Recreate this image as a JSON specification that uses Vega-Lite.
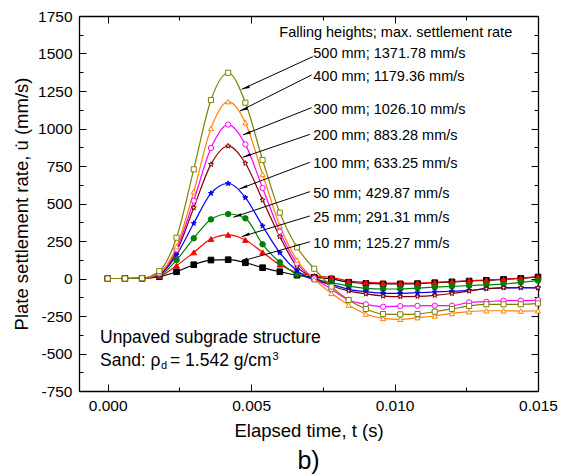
{
  "$schema": "https://vega.github.io/schema/vega-lite/v6.json",
  "width": 459,
  "height": 375,
  "autosize": "none",
  "padding": {"left": 79, "top": 16, "right": 27, "bottom": 84},
  "background": "white",
  "config": {
    "font": "Liberation Sans",
    "view": {"stroke": null},
    "axis": {
      "grid": false,
      "domainColor": "black",
      "domainWidth": 1.3,
      "tickColor": "black",
      "tickWidth": 1,
      "labelColor": "black",
      "labelFont": "Liberation Sans",
      "labelFontSize": 15.5,
      "titleFont": "Liberation Sans",
      "titleFontSize": 18.5,
      "titleFontWeight": "normal",
      "titleColor": "black"
    }
  },
  "title": {"text": "b)", "orient": "bottom", "anchor": "middle", "fontSize": 25, "fontWeight": "normal", "color": "black", "font": "Liberation Sans", "offset": 9},
  "datasets": {
    "series": [
      {"h":"10 mm","t":0,"v":0},{"h":"10 mm","t":0.0006,"v":0},{"h":"10 mm","t":0.0012,"v":1},{"h":"10 mm","t":0.0018,"v":12},{"h":"10 mm","t":0.0024,"v":45},{"h":"10 mm","t":0.003,"v":92},{"h":"10 mm","t":0.0036,"v":123},{"h":"10 mm","t":0.0042,"v":125.27},{"h":"10 mm","t":0.0048,"v":105},{"h":"10 mm","t":0.0054,"v":72},{"h":"10 mm","t":0.006,"v":45},{"h":"10 mm","t":0.0066,"v":22},{"h":"10 mm","t":0.0072,"v":8},{"h":"10 mm","t":0.0078,"v":-3},{"h":"10 mm","t":0.0084,"v":-25},{"h":"10 mm","t":0.009,"v":-33},{"h":"10 mm","t":0.0096,"v":-36},{"h":"10 mm","t":0.0102,"v":-36},{"h":"10 mm","t":0.0108,"v":-34},{"h":"10 mm","t":0.0114,"v":-28},{"h":"10 mm","t":0.012,"v":-22},{"h":"10 mm","t":0.0126,"v":-17},{"h":"10 mm","t":0.0132,"v":-12},{"h":"10 mm","t":0.0138,"v":-6},{"h":"10 mm","t":0.0144,"v":1},{"h":"10 mm","t":0.015,"v":10},
      {"h":"25 mm","t":0,"v":0},{"h":"25 mm","t":0.0006,"v":0},{"h":"25 mm","t":0.0012,"v":1},{"h":"25 mm","t":0.0018,"v":15},{"h":"25 mm","t":0.0024,"v":86},{"h":"25 mm","t":0.003,"v":174},{"h":"25 mm","t":0.0036,"v":263},{"h":"25 mm","t":0.0042,"v":291.31},{"h":"25 mm","t":0.0048,"v":257},{"h":"25 mm","t":0.0054,"v":175},{"h":"25 mm","t":0.006,"v":92},{"h":"25 mm","t":0.0066,"v":40},{"h":"25 mm","t":0.0072,"v":18},{"h":"25 mm","t":0.0078,"v":8},{"h":"25 mm","t":0.0084,"v":-18},{"h":"25 mm","t":0.009,"v":-26},{"h":"25 mm","t":0.0096,"v":-30},{"h":"25 mm","t":0.0102,"v":-31},{"h":"25 mm","t":0.0108,"v":-30},{"h":"25 mm","t":0.0114,"v":-26},{"h":"25 mm","t":0.012,"v":-20},{"h":"25 mm","t":0.0126,"v":-15},{"h":"25 mm","t":0.0132,"v":-10},{"h":"25 mm","t":0.0138,"v":-4},{"h":"25 mm","t":0.0144,"v":3},{"h":"25 mm","t":0.015,"v":12},
      {"h":"50 mm","t":0,"v":0},{"h":"50 mm","t":0.0006,"v":0},{"h":"50 mm","t":0.0012,"v":1},{"h":"50 mm","t":0.0018,"v":20},{"h":"50 mm","t":0.0024,"v":123},{"h":"50 mm","t":0.003,"v":268},{"h":"50 mm","t":0.0036,"v":394},{"h":"50 mm","t":0.0042,"v":429.87},{"h":"50 mm","t":0.0048,"v":401},{"h":"50 mm","t":0.0054,"v":228},{"h":"50 mm","t":0.006,"v":108},{"h":"50 mm","t":0.0066,"v":28},{"h":"50 mm","t":0.0072,"v":-3},{"h":"50 mm","t":0.0078,"v":-28},{"h":"50 mm","t":0.0084,"v":-50},{"h":"50 mm","t":0.009,"v":-66},{"h":"50 mm","t":0.0096,"v":-70},{"h":"50 mm","t":0.0102,"v":-70},{"h":"50 mm","t":0.0108,"v":-64},{"h":"50 mm","t":0.0114,"v":-58},{"h":"50 mm","t":0.012,"v":-52},{"h":"50 mm","t":0.0126,"v":-48},{"h":"50 mm","t":0.0132,"v":-42},{"h":"50 mm","t":0.0138,"v":-37},{"h":"50 mm","t":0.0144,"v":-26},{"h":"50 mm","t":0.015,"v":-14},
      {"h":"100 mm","t":0,"v":0},{"h":"100 mm","t":0.0006,"v":0},{"h":"100 mm","t":0.0012,"v":1},{"h":"100 mm","t":0.0018,"v":25},{"h":"100 mm","t":0.0024,"v":157},{"h":"100 mm","t":0.003,"v":368},{"h":"100 mm","t":0.0036,"v":568},{"h":"100 mm","t":0.0042,"v":633.25},{"h":"100 mm","t":0.0048,"v":539},{"h":"100 mm","t":0.0054,"v":350},{"h":"100 mm","t":0.006,"v":172},{"h":"100 mm","t":0.0066,"v":52},{"h":"100 mm","t":0.0072,"v":-10},{"h":"100 mm","t":0.0078,"v":-39},{"h":"100 mm","t":0.0084,"v":-72},{"h":"100 mm","t":0.009,"v":-88},{"h":"100 mm","t":0.0096,"v":-99},{"h":"100 mm","t":0.0102,"v":-99},{"h":"100 mm","t":0.0108,"v":-95},{"h":"100 mm","t":0.0114,"v":-90},{"h":"100 mm","t":0.012,"v":-85},{"h":"100 mm","t":0.0126,"v":-79},{"h":"100 mm","t":0.0132,"v":-68},{"h":"100 mm","t":0.0138,"v":-62},{"h":"100 mm","t":0.0144,"v":-62},{"h":"100 mm","t":0.015,"v":-62},
      {"h":"200 mm","t":0,"v":0},{"h":"200 mm","t":0.0006,"v":0},{"h":"200 mm","t":0.0012,"v":1},{"h":"200 mm","t":0.0018,"v":30},{"h":"200 mm","t":0.0024,"v":179},{"h":"200 mm","t":0.003,"v":472},{"h":"200 mm","t":0.0036,"v":761},{"h":"200 mm","t":0.0042,"v":883.28},{"h":"200 mm","t":0.0048,"v":768},{"h":"200 mm","t":0.0054,"v":523},{"h":"200 mm","t":0.006,"v":279},{"h":"200 mm","t":0.0066,"v":79},{"h":"200 mm","t":0.0072,"v":5},{"h":"200 mm","t":0.0078,"v":-48},{"h":"200 mm","t":0.0084,"v":-83},{"h":"200 mm","t":0.009,"v":-103},{"h":"200 mm","t":0.0096,"v":-117},{"h":"200 mm","t":0.0102,"v":-121},{"h":"200 mm","t":0.0108,"v":-119},{"h":"200 mm","t":0.0114,"v":-112},{"h":"200 mm","t":0.012,"v":-100},{"h":"200 mm","t":0.0126,"v":-84},{"h":"200 mm","t":0.0132,"v":-68},{"h":"200 mm","t":0.0138,"v":-62},{"h":"200 mm","t":0.0144,"v":-60},{"h":"200 mm","t":0.015,"v":-62},
      {"h":"300 mm","t":0,"v":0},{"h":"300 mm","t":0.0006,"v":0},{"h":"300 mm","t":0.0012,"v":1},{"h":"300 mm","t":0.0018,"v":33},{"h":"300 mm","t":0.0024,"v":194},{"h":"300 mm","t":0.003,"v":519},{"h":"300 mm","t":0.0036,"v":870},{"h":"300 mm","t":0.0042,"v":1026.1},{"h":"300 mm","t":0.0048,"v":894},{"h":"300 mm","t":0.0054,"v":603},{"h":"300 mm","t":0.006,"v":312},{"h":"300 mm","t":0.0066,"v":101},{"h":"300 mm","t":0.0072,"v":1},{"h":"300 mm","t":0.0078,"v":-72},{"h":"300 mm","t":0.0084,"v":-143},{"h":"300 mm","t":0.009,"v":-172},{"h":"300 mm","t":0.0096,"v":-188},{"h":"300 mm","t":0.0102,"v":-184},{"h":"300 mm","t":0.0108,"v":-182},{"h":"300 mm","t":0.0114,"v":-181},{"h":"300 mm","t":0.012,"v":-181},{"h":"300 mm","t":0.0126,"v":-159},{"h":"300 mm","t":0.0132,"v":-155},{"h":"300 mm","t":0.0138,"v":-148},{"h":"300 mm","t":0.0144,"v":-148},{"h":"300 mm","t":0.015,"v":-144},
      {"h":"400 mm","t":0,"v":0},{"h":"400 mm","t":0.0006,"v":0},{"h":"400 mm","t":0.0012,"v":1},{"h":"400 mm","t":0.0018,"v":38},{"h":"400 mm","t":0.0024,"v":212},{"h":"400 mm","t":0.003,"v":579},{"h":"400 mm","t":0.0036,"v":1001},{"h":"400 mm","t":0.0042,"v":1179.36},{"h":"400 mm","t":0.0048,"v":1039},{"h":"400 mm","t":0.0054,"v":694},{"h":"400 mm","t":0.006,"v":352},{"h":"400 mm","t":0.0066,"v":123},{"h":"400 mm","t":0.0072,"v":-6},{"h":"400 mm","t":0.0078,"v":-99},{"h":"400 mm","t":0.0084,"v":-177},{"h":"400 mm","t":0.009,"v":-237},{"h":"400 mm","t":0.0096,"v":-266},{"h":"400 mm","t":0.0102,"v":-272},{"h":"400 mm","t":0.0108,"v":-261},{"h":"400 mm","t":0.0114,"v":-250},{"h":"400 mm","t":0.012,"v":-233},{"h":"400 mm","t":0.0126,"v":-221},{"h":"400 mm","t":0.0132,"v":-215},{"h":"400 mm","t":0.0138,"v":-215},{"h":"400 mm","t":0.0144,"v":-217},{"h":"400 mm","t":0.015,"v":-215},
      {"h":"500 mm","t":0,"v":0},{"h":"500 mm","t":0.0006,"v":0},{"h":"500 mm","t":0.0012,"v":2},{"h":"500 mm","t":0.0018,"v":50},{"h":"500 mm","t":0.0024,"v":272},{"h":"500 mm","t":0.003,"v":728},{"h":"500 mm","t":0.0036,"v":1190},{"h":"500 mm","t":0.0042,"v":1371.78},{"h":"500 mm","t":0.0048,"v":1172},{"h":"500 mm","t":0.0054,"v":790},{"h":"500 mm","t":0.006,"v":439},{"h":"500 mm","t":0.0066,"v":208},{"h":"500 mm","t":0.0072,"v":65},{"h":"500 mm","t":0.0078,"v":-54},{"h":"500 mm","t":0.0084,"v":-143},{"h":"500 mm","t":0.009,"v":-203},{"h":"500 mm","t":0.0096,"v":-237},{"h":"500 mm","t":0.0102,"v":-239},{"h":"500 mm","t":0.0108,"v":-237},{"h":"500 mm","t":0.0114,"v":-221},{"h":"500 mm","t":0.012,"v":-203},{"h":"500 mm","t":0.0126,"v":-183},{"h":"500 mm","t":0.0132,"v":-172},{"h":"500 mm","t":0.0138,"v":-172},{"h":"500 mm","t":0.0144,"v":-172},{"h":"500 mm","t":0.015,"v":-166}
    ],
    "arrows": [
      {"h":"500 mm","t":0.00715,"v":1479,"t2":0.00467,"v2":1261},
      {"h":"400 mm","t":0.00711,"v":1357,"t2":0.00461,"v2":1117},
      {"h":"300 mm","t":0.00711,"v":1139,"t2":0.00471,"v2":957},
      {"h":"200 mm","t":0.00705,"v":961,"t2":0.00471,"v2":808},
      {"h":"100 mm","t":0.00705,"v":775,"t2":0.00459,"v2":597},
      {"h":"50 mm","t":0.00705,"v":579,"t2":0.00438,"v2":408},
      {"h":"25 mm","t":0.00705,"v":417,"t2":0.00467,"v2":279},
      {"h":"10 mm","t":0.00705,"v":245,"t2":0.00461,"v2":112}
    ],
    "labels": [
      {"t":0.005982,"v":1611,"label":"Falling heights; max. settlement rate"},
      {"t":0.007167,"v":1468,"label":"500 mm; 1371.78 mm/s"},
      {"t":0.007167,"v":1319,"label":"400 mm; 1179.36 mm/s"},
      {"t":0.007167,"v":1097,"label":"300 mm; 1026.10 mm/s"},
      {"t":0.007167,"v":923,"label":"200 mm; 883.28 mm/s"},
      {"t":0.007167,"v":735,"label":"100 mm; 633.25 mm/s"},
      {"t":0.007167,"v":539,"label":"50 mm; 429.87 mm/s"},
      {"t":0.007167,"v":377,"label":"25 mm; 291.31 mm/s"},
      {"t":0.007167,"v":201,"label":"10 mm; 125.27 mm/s"}
    ],
    "notes": [
      {"t":-0.000268,"v":-430,"label":"Unpaved subgrade structure"},
      {"t":-0.000268,"v":-583,"label":"Sand:"},
      {"t":0.001496,"v":-583,"label":"ρ"},
      {"t":0.002172,"v":-583,"label":"= 1.542 g/cm"}
    ],
    "scripts": [
      {"t":0.001858,"v":-600,"label":"d"},
      {"t":0.005745,"v":-543,"label":"3"}
    ]
  },
  "layer": [
    {
      "data": {"name": "series"},
      "mark": {"type": "line", "interpolate": "monotone", "strokeWidth": 1.2},
      "encoding": {
        "x": {"field": "t", "type": "quantitative", "scale": {"domain": [-0.001, 0.015], "nice": false, "zero": false},
          "axis": {"orient": "bottom", "title": "Elapsed time, t (s)", "values": [0, 0.0025, 0.005, 0.0075, 0.01, 0.0125, 0.015], "format": ".3f",
            "labelExpr": "abs(datum.value*200 - round(datum.value*200)) < 0.001 ? datum.label : ''",
            "tickSize": {"condition": {"test": "abs(datum.value*200 - round(datum.value*200)) < 0.001", "value": -7}, "value": -4},
            "labelPadding": 14, "labelFlush": false, "titleX": 229.5, "titleY": 45, "titleBaseline": "alphabetic", "titleAlign": "center"}},
        "y": {"field": "v", "type": "quantitative", "scale": {"domain": [-750, 1750], "nice": false, "zero": false},
          "axis": {"orient": "left", "title": "Plate settlement rate, u̇ (mm/s)", "values": [-750, -625, -500, -375, -250, -125, 0, 125, 250, 375, 500, 625, 750, 875, 1000, 1125, 1250, 1375, 1500, 1625, 1750],
            "labelExpr": "datum.value % 250 === 0 ? '' + datum.value : ''",
            "tickSize": {"condition": {"test": "datum.value % 250 === 0", "value": -7}, "value": -4},
            "labelPadding": 14, "labelFlush": false, "titleX": -51.5, "titleY": 187.5, "titleBaseline": "alphabetic", "titleAlign": "center", "titleAngle": -90}},
        "color": {"field": "h", "type": "nominal", "scale": {"domain": ["500 mm","400 mm","300 mm","200 mm","100 mm","50 mm","25 mm","10 mm"], "range": ["#808000","#FF8000","#FF00FF","#800000","#0000FF","#008000","#FF0000","#000000"]}, "legend": null}
      }
    },
    {
      "data": {"name": "series"},
      "mark": {"type": "point", "filled": true, "strokeWidth": 1, "opacity": 1},
      "encoding": {
        "x": {"field": "t", "type": "quantitative",
          "axis": {"orient": "top", "title": null, "labels": false, "values": [0, 0.0025, 0.005, 0.0075, 0.01, 0.0125, 0.015],
            "tickSize": {"condition": {"test": "abs(datum.value*200 - round(datum.value*200)) < 0.001", "value": -7}, "value": -4}}},
        "y": {"field": "v", "type": "quantitative",
          "axis": {"orient": "right", "title": null, "labels": false, "values": [-750, -625, -500, -375, -250, -125, 0, 125, 250, 375, 500, 625, 750, 875, 1000, 1125, 1250, 1375, 1500, 1625, 1750],
            "tickSize": {"condition": {"test": "datum.value % 250 === 0", "value": -7}, "value": -4}}},
        "shape": {"field": "h", "type": "nominal", "scale": {"domain": ["500 mm","400 mm","300 mm","200 mm","100 mm","50 mm","25 mm","10 mm"], "range": ["square","triangle-up","circle","M0,-1L0.223,-0.307L0.951,-0.309L0.361,0.117L0.588,0.809L0,0.38L-0.588,0.809L-0.361,0.117L-0.951,-0.309L-0.223,-0.307Z","M0,-1L0.223,-0.307L0.951,-0.309L0.361,0.117L0.588,0.809L0,0.38L-0.588,0.809L-0.361,0.117L-0.951,-0.309L-0.223,-0.307Z","circle","triangle-up","square"]}, "legend": null},
        "fill": {"field": "h", "type": "nominal", "scale": {"domain": ["500 mm","400 mm","300 mm","200 mm","100 mm","50 mm","25 mm","10 mm"], "range": ["#ffffff","#ffffff","#ffffff","#ffffff","#0000FF","#008000","#FF0000","#000000"]}, "legend": null},
        "stroke": {"field": "h", "type": "nominal", "scale": {"domain": ["500 mm","400 mm","300 mm","200 mm","100 mm","50 mm","25 mm","10 mm"], "range": ["#808000","#FF8000","#FF00FF","#800000","#0000FF","#008000","#FF0000","#000000"]}, "legend": null},
        "size": {"field": "h", "type": "nominal", "scale": {"domain": ["500 mm","400 mm","300 mm","200 mm","100 mm","50 mm","25 mm","10 mm"], "range": [26, 32, 28, 60, 60, 28, 30, 22]}, "legend": null}
      }
    },
    {
      "data": {"name": "arrows"},
      "mark": {"type": "rule", "color": "black", "strokeWidth": 1},
      "encoding": {
        "x": {"field": "t", "type": "quantitative", "axis": null},
        "y": {"field": "v", "type": "quantitative", "axis": null},
        "x2": {"field": "t2"},
        "y2": {"field": "v2"}
      }
    },
    {
      "data": {"name": "arrows"},
      "mark": {"type": "point", "filled": true, "color": "black", "opacity": 1, "size": 55, "angle": 250, "shape": "M0,0L0.38,2.2L-0.38,2.2Z"},
      "encoding": {
        "x": {"field": "t2", "type": "quantitative", "axis": null},
        "y": {"field": "v2", "type": "quantitative", "axis": null}
      }
    },
    {
      "data": {"name": "labels"},
      "mark": {"type": "text", "align": "left", "baseline": "alphabetic", "fontSize": 14.5, "color": "black", "font": "Liberation Sans"},
      "encoding": {
        "x": {"field": "t", "type": "quantitative", "axis": null},
        "y": {"field": "v", "type": "quantitative", "axis": null},
        "text": {"field": "label"}
      }
    },
    {
      "data": {"name": "notes"},
      "mark": {"type": "text", "align": "left", "baseline": "alphabetic", "fontSize": 17.5, "color": "black", "font": "Liberation Sans"},
      "encoding": {
        "x": {"field": "t", "type": "quantitative", "axis": null},
        "y": {"field": "v", "type": "quantitative", "axis": null},
        "text": {"field": "label"}
      }
    },
    {
      "data": {"name": "scripts"},
      "mark": {"type": "text", "align": "left", "baseline": "alphabetic", "fontSize": 11, "color": "black", "font": "Liberation Sans"},
      "encoding": {
        "x": {"field": "t", "type": "quantitative", "axis": null},
        "y": {"field": "v", "type": "quantitative", "axis": null},
        "text": {"field": "label"}
      }
    }
  ],
  "resolve": {"axis": {"x": "independent", "y": "independent"}}
}
